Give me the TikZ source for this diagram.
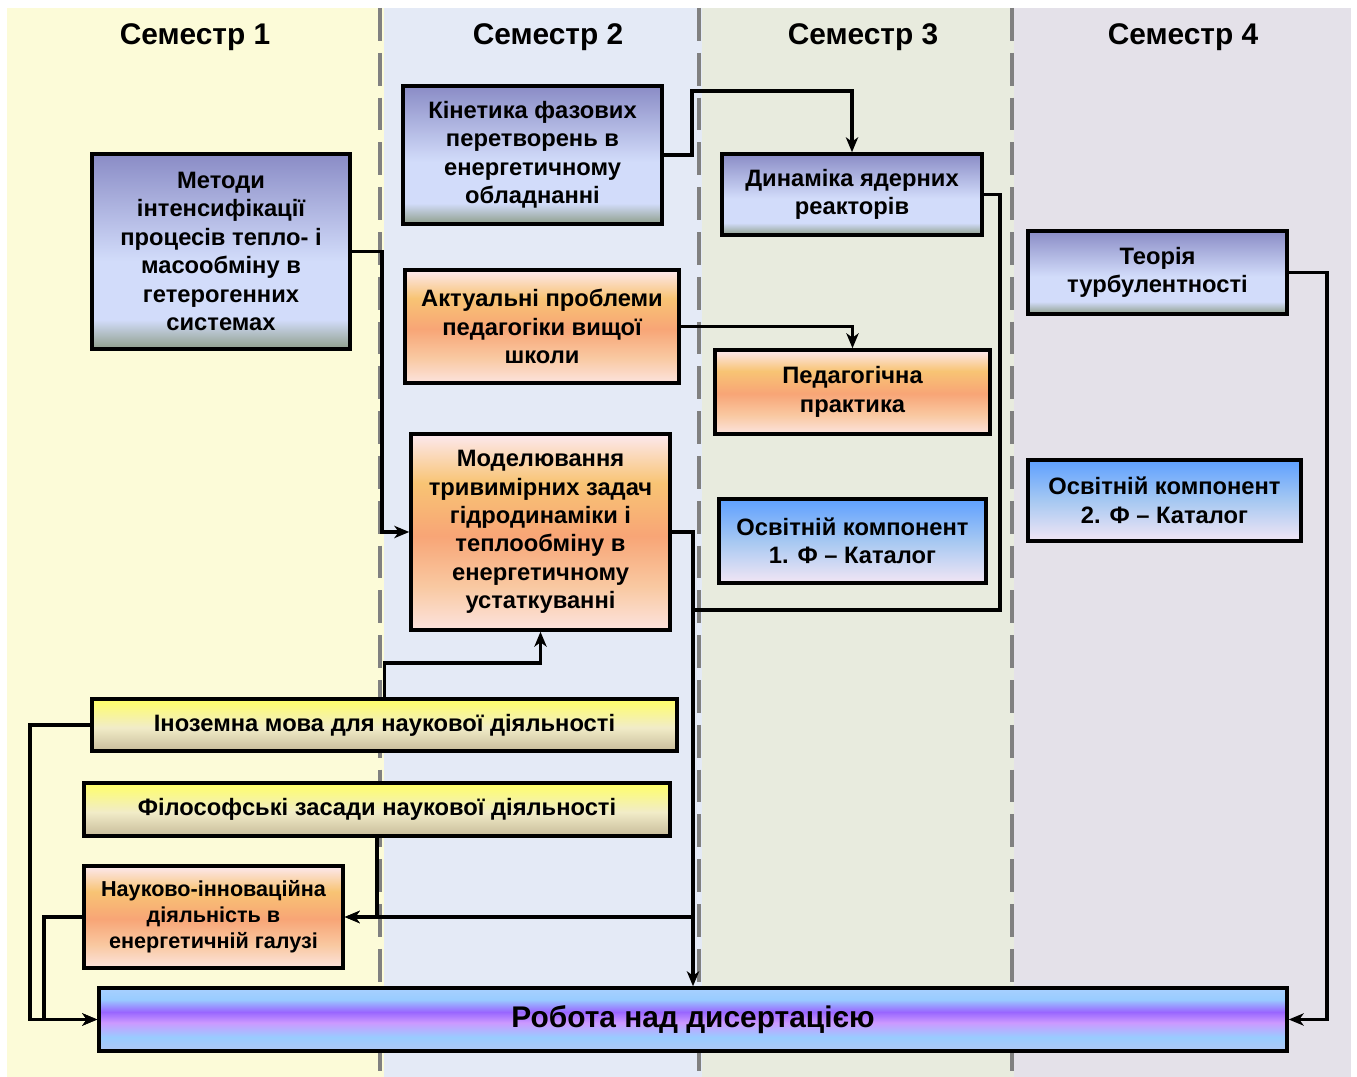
\documentclass[tikz,border=0pt]{standalone}
\usepackage{fontspec}
\setmainfont{Liberation Sans}
\usetikzlibrary{arrows.meta,positioning}

\definecolor{semA}{HTML}{FCFBD8}
\definecolor{semB}{HTML}{E4EAF6}
\definecolor{semC}{HTML}{E8EBDE}
\definecolor{semD}{HTML}{E4E1E9}
\definecolor{divgray}{HTML}{808080}

\definecolor{slateTop}{HTML}{8A8CC6}
\definecolor{slateMid}{HTML}{D2DCFA}
\definecolor{slateBot}{HTML}{8E9E8A}
\definecolor{peachTop}{HTML}{FDE9EF}
\definecolor{peachA}{HTML}{F8C474}
\definecolor{peachB}{HTML}{F8A576}
\definecolor{peachC}{HTML}{F9C9A2}
\definecolor{peachBot}{HTML}{FCE3DE}
\definecolor{skyTop}{HTML}{5EA0FF}
\definecolor{skyMid}{HTML}{A6C8F2}
\definecolor{skyBot}{HTML}{F2E6F4}
\definecolor{lemonTop}{HTML}{FFFF66}
\definecolor{lemonMid}{HTML}{F1ECC8}
\definecolor{lemonBot}{HTML}{C8BC9A}
\definecolor{violA}{HTML}{A8D0FF}
\definecolor{violB}{HTML}{99CCFF}
\definecolor{violC}{HTML}{9966FF}
\definecolor{violD}{HTML}{CC99FF}
\definecolor{violE}{HTML}{B0C8F4}

% the box itself covers 25bp--75bp of each shading
\pgfdeclareverticalshading{slatebox}{100bp}{color(0bp)=(slateBot); color(25bp)=(slateBot); color(32.5bp)=(slateMid); color(47.5bp)=(slateMid); color(75bp)=(slateTop); color(100bp)=(slateTop)}
\pgfdeclareverticalshading{peachbox}{100bp}{color(0bp)=(peachBot); color(25bp)=(peachBot); color(36bp)=(peachC); color(49bp)=(peachB); color(62.5bp)=(peachA); color(75bp)=(peachTop); color(100bp)=(peachTop)}
\pgfdeclareverticalshading{skybox}{100bp}{color(0bp)=(skyBot); color(25bp)=(skyBot); color(50bp)=(skyMid); color(75bp)=(skyTop); color(100bp)=(skyTop)}
\pgfdeclareverticalshading{lemonbox}{100bp}{color(0bp)=(lemonBot); color(25bp)=(lemonBot); color(47.5bp)=(lemonMid); color(75bp)=(lemonTop); color(100bp)=(lemonTop)}
\pgfdeclareverticalshading{violbox}{100bp}{color(0bp)=(violE); color(25bp)=(violE); color(36bp)=(violB); color(47.5bp)=(violD); color(56bp)=(violC); color(66bp)=(violB); color(75bp)=(violA); color(100bp)=(violA)}

\begin{document}
\begin{tikzpicture}[x=0.02cm,y=-0.02cm,>={Stealth[length=8.5pt,width=7pt,inset=2.5pt]},
                    dims/.style 2 args={minimum width=#1*0.02cm,minimum height=#2*0.02cm}]
	  \tikzstyle{course}=[draw=black,line width=2pt,align=center,inner sep=0pt,
	                      font=\fontsize{13.5}{16.2}\selectfont\bfseries]
	  \tikzstyle{slate}=[course,shading=slatebox]
	  \tikzstyle{peach}=[course,shading=peachbox]
	  \tikzstyle{sky}=[course,shading=skybox]
	  \tikzstyle{lemon}=[course,shading=lemonbox]
	  \tikzstyle{head}=[font=\fontsize{17}{20}\selectfont\bfseries]
	  \tikzstyle{divider}=[divgray,line width=2.2pt,dash pattern=on 18.7pt off 6.8pt]
	  \tikzstyle{link}=[line width=2pt]

	  \useasboundingbox (0,0) rectangle (1357,1077);

	  % semester columns
	  \fill[semA] (7,8) rectangle (384,1077);
	  \fill[semB] (384,8) rectangle (702,1077);
	  \fill[semC] (702,8) rectangle (1014,1077);
	  \fill[semD] (1014,8) rectangle (1351,1077);
	  \draw[divider] (380,8) -- (380,1077);
	  \draw[divider] (699,8) -- (699,1077);
	  \draw[divider] (1012,8) -- (1012,1077);

	  \node[head] (sem-1) at (195,37) {Семестр 1};
	  \node[head] (sem-2) at (548,37) {Семестр 2};
	  \node[head] (sem-3) at (863,37) {Семестр 3};
	  \node[head] (sem-4) at (1183,37) {Семестр 4};

	  % courses
	  \node[slate,dims={258}{195}] (metody) at (221,251.5) {Методи\\інтенсифікації\\процесів тепло- і\\масообміну в\\гетерогенних\\системах};
	  \node[slate,dims={259}{138}] (kinetyka) at (532.5,155) {Кінетика фазових\\перетворень в\\енергетичному\\обладнанні};
	  \node[slate,dims={260}{81}] (dynamika) at (852,194.5) {Динаміка ядерних\\реакторів};
	  \node[slate,dims={259}{83}] (teoria) at (1157.5,272.5) {Теорія\\турбулентності};

	  \node[peach,dims={274}{113}] (aktualni) at (542,326.5) {Актуальні проблеми\\педагогіки вищої\\школи};
	  \node[peach,dims={275}{84}] (praktyka) at (852.5,392) {Педагогічна\\практика};
	  \node[peach,dims={259}{196}] (model) at (540.5,532) {Моделювання\\тривимірних задач\\гідродинаміки і\\теплообміну в\\енергетичному\\устаткуванні};

	  \node[sky,dims={267}{84}] (osvita-1) at (852.5,541) {Освітній компонент\\1. Ф – Каталог};
	  \node[sky,dims={273}{81}] (osvita-2) at (1164.5,500.5) {Освітній компонент\\2. Ф – Каталог};

	  \node[lemon,dims={585}{52}] (mova) at (384.5,725) {Іноземна мова для наукової діяльності};
	  \node[lemon,dims={586}{53}] (filosofia) at (377,809.5) {Філософські засади наукової діяльності};
	  \node[peach,dims={259}{102},font=\fontsize{12.3}{14.7}\selectfont\bfseries] (innovacii) at (213.5,917) {Науково-інноваційна\\діяльність в\\енергетичній галузі};

	  \node[course,shading=violbox,dims={1188}{63},font=\fontsize{17}{20}\selectfont\bfseries] (dysertacia) at (693,1019.5) {Робота над дисертацією};

	  % bends
	  \coordinate (kin-bend) at (692,91);
	  \coordinate (dyn-bend) at (1000,610);

	  \draw[link,->] (metody.east) -- ++(30,0) |- (model.west);
	  \draw[link,->] (kinetyka.east) -| (kin-bend) -| (dynamika.north);
	  \draw[link,->] (aktualni.east) -| (praktyka.north);
	  \draw[link,->] (mova.north) -- ++(0,-34) -| (model.south);
	  \draw[link,->] (mova.west) -- ++(-60,0) |- (dysertacia.west);
	  \draw[link,->] (innovacii.west) -- ++(-38,0) |- (dysertacia.west);
	  \draw[link,->] (model.east) -| (dysertacia.north);
	  \draw[link] (dynamika.east) -| (dyn-bend) -- (dyn-bend -| dysertacia.north);
	  \draw[link,->] (dysertacia.north |- innovacii.east) -- (innovacii.east);
	  \draw[link,->] (filosofia.south) |- (innovacii.east);
	  \draw[link,->] (teoria.east) -- ++(38,0) |- (dysertacia.east);
\end{tikzpicture}
\end{document}
